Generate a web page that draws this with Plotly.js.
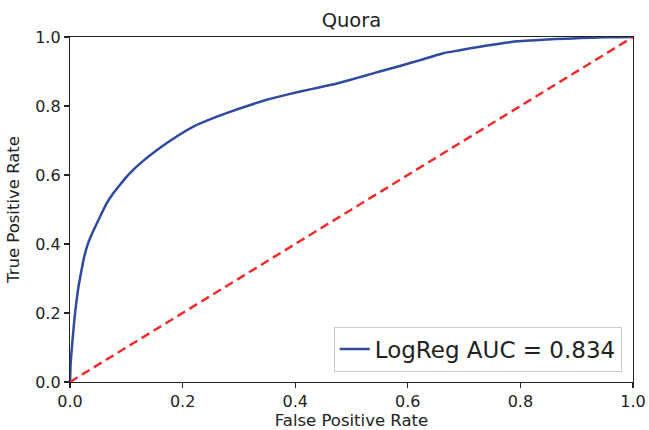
<!DOCTYPE html>
<html>
<head>
<meta charset="utf-8">
<script src="https://cdn.plot.ly/plotly-3.0.1.min.js"></script>
<style>html,body{margin:0;padding:0;background:#fff;}#chart{width:649px;height:430px;}</style>
</head>
<body>
<div id="chart"></div>
<script>
const fpr = [0, 0.001, 0.003, 0.006, 0.009, 0.012, 0.015, 0.02, 0.024, 0.03, 0.036, 0.044, 0.055, 0.065, 0.075, 0.086, 0.1, 0.115, 0.13, 0.154, 0.184, 0.22, 0.261, 0.3, 0.349, 0.373, 0.409, 0.44, 0.471, 0.5, 0.527, 0.55, 0.586, 0.622, 0.663, 0.69, 0.728, 0.76, 0.787, 0.82, 0.847, 0.88, 0.906, 0.95, 0.995, 1];
const tpr = [0, 0.05, 0.093, 0.15, 0.20, 0.24, 0.276, 0.32, 0.354, 0.392, 0.418, 0.447, 0.485, 0.518, 0.543, 0.566, 0.594, 0.619, 0.641, 0.672, 0.706, 0.741, 0.769, 0.792, 0.818, 0.828, 0.842, 0.853, 0.864, 0.877, 0.889, 0.9, 0.916, 0.933, 0.953, 0.961, 0.972, 0.98, 0.986, 0.99, 0.993, 0.995, 0.997, 0.999, 1.0, 1.0];
const chanceX = [0, 1];
const chanceY = [0, 1];
const seriesName = "LogReg AUC = 0.834";
const tickVals = [0, 0.2, 0.4, 0.6, 0.8, 1.0];
const tickText = ["0.0", "0.2", "0.4", "0.6", "0.8", "1.0"];

const font = "DejaVu Sans, sans-serif";
const traces = [
  {x: fpr, y: tpr, mode: "lines", name: seriesName, line: {color: "#2f4a9f", width: 2.5, shape: "spline", smoothing: 0.3}},
  {x: chanceX, y: chanceY, mode: "lines", showlegend: false, line: {color: "#ee2e2e", width: 2.5, dash: "9px,5px"}}
];
const axisCommon = {
  range: [0, 1], tickvals: tickVals, ticktext: tickText,
  showgrid: false, zeroline: false, showline: true, mirror: true,
  linecolor: "#222", linewidth: 1.2, ticks: "outside", ticklen: 5, tickcolor: "#222", tickwidth: 1.2,
  tickfont: {family: font, size: 16, color: "#222"}
};
const layout = {
  width: 649, height: 430,
  margin: {l: 70, r: 16, t: 37, b: 48},
  paper_bgcolor: "#fff", plot_bgcolor: "#fff",
  title: {text: "Quora", font: {family: font, size: 19.5, color: "#222"}, x: 0.5415, xanchor: "center", y: 0.953, yanchor: "middle"},
  xaxis: Object.assign({}, axisCommon, {title: {text: "False Positive Rate", font: {family: font, size: 16.5, color: "#222"}, standoff: 11}}),
  yaxis: Object.assign({}, axisCommon, {title: {text: "True Positive Rate", font: {family: font, size: 16.5, color: "#222"}, standoff: 11}}),
  legend: {x: 0.98, xanchor: "right", y: 0.03, yanchor: "bottom", bgcolor: "rgba(255,255,255,0.8)", bordercolor: "#cccccc", borderwidth: 1, font: {family: font, size: 23, color: "#222"}},
  showlegend: true
};
Plotly.newPlot("chart", traces, layout, {displayModeBar: false, staticPlot: true});
</script>
</body>
</html>
